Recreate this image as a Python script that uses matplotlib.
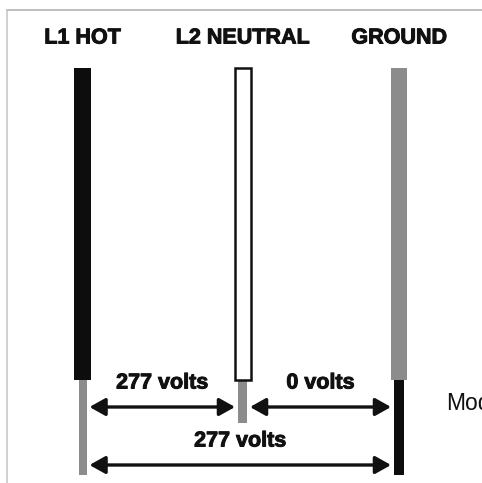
import matplotlib.pyplot as plt
import matplotlib.patheffects as pe
from matplotlib.patches import Rectangle, FancyArrowPatch

# wire names and colours of the upper / lower part of each conductor
wire_labels = ["L1 HOT", "L2 NEUTRAL", "GROUND"]
upper_colors = ["#0d0d0d", "white", "#8c8c8c"]
lower_colors = ["#8c8c8c", "#8c8c8c", "#0d0d0d"]

# voltages measured between wires (from index, to index, volts)
pair_from = [0, 1, 0]
pair_to = [1, 2, 2]
pair_volts = [277, 0, 277]

# layout (pixel coordinates, y going down)
W, H = 482, 483
wire_x = [82.5, 242.5, 399]
upper_w = [17, 16, 16]
lower_w = [8, 9, 10]
lower_end = [475, 423, 475]
top_y, split_y = 68, 380
row_y = [407, 407, 465]

fig = plt.figure(figsize=(W / 100, H / 100), dpi=100)
ax = fig.add_axes([0, 0, 1, 1])
ax.set_xlim(0, W)
ax.set_ylim(H, 0)
ax.axis("off")

# picture frame
ax.plot([7, W], [10, 10], color="#b4b4b4", lw=1.2)
ax.plot([7, 7], [10, H], color="#c8c8c8", lw=1.2)

font = "Liberation Sans"
heavy = [pe.withStroke(linewidth=0.7, foreground="#111111")]
for i, name in enumerate(wire_labels):
    x = wire_x[i]
    ax.text(x, 38, name, ha="center", va="center", fontsize=15.5,
            fontweight="bold", family=font, color="#111111",
            path_effects=heavy)
    # lower (stripped) part
    ax.add_patch(Rectangle((x - lower_w[i] / 2, split_y), lower_w[i],
                           lower_end[i] - split_y, facecolor=lower_colors[i],
                           edgecolor="none"))
    # upper (insulated) part
    ec = "#111111" if upper_colors[i] == "white" else "none"
    ax.add_patch(Rectangle((x - upper_w[i] / 2, top_y), upper_w[i],
                           split_y - top_y, facecolor=upper_colors[i],
                           edgecolor=ec, lw=1.8))

for a, b, v, y in zip(pair_from, pair_to, pair_volts, row_y):
    x0 = wire_x[a] + lower_w[a] / 2 + 3
    x1 = wire_x[b] - (lower_w[b] / 2 + 3)
    arr = FancyArrowPatch((x0, y), (x1, y),
                          arrowstyle="<|-|>,head_length=0.5,head_width=0.28",
                          mutation_scale=19, lw=2.4, color="#111111",
                          shrinkA=0, shrinkB=0)
    ax.add_patch(arr)
    ax.text((x0 + x1) / 2, y - 24, f"{v} volts", ha="center", va="center",
            fontsize=15.5, fontweight="bold", family=font, color="#111111",
            path_effects=heavy)

ax.text(446, 403, "Mod", ha="left", va="center", fontsize=16.5,
        family=font, color="#111111", clip_on=True)

fig.savefig("out.png", dpi=100)
